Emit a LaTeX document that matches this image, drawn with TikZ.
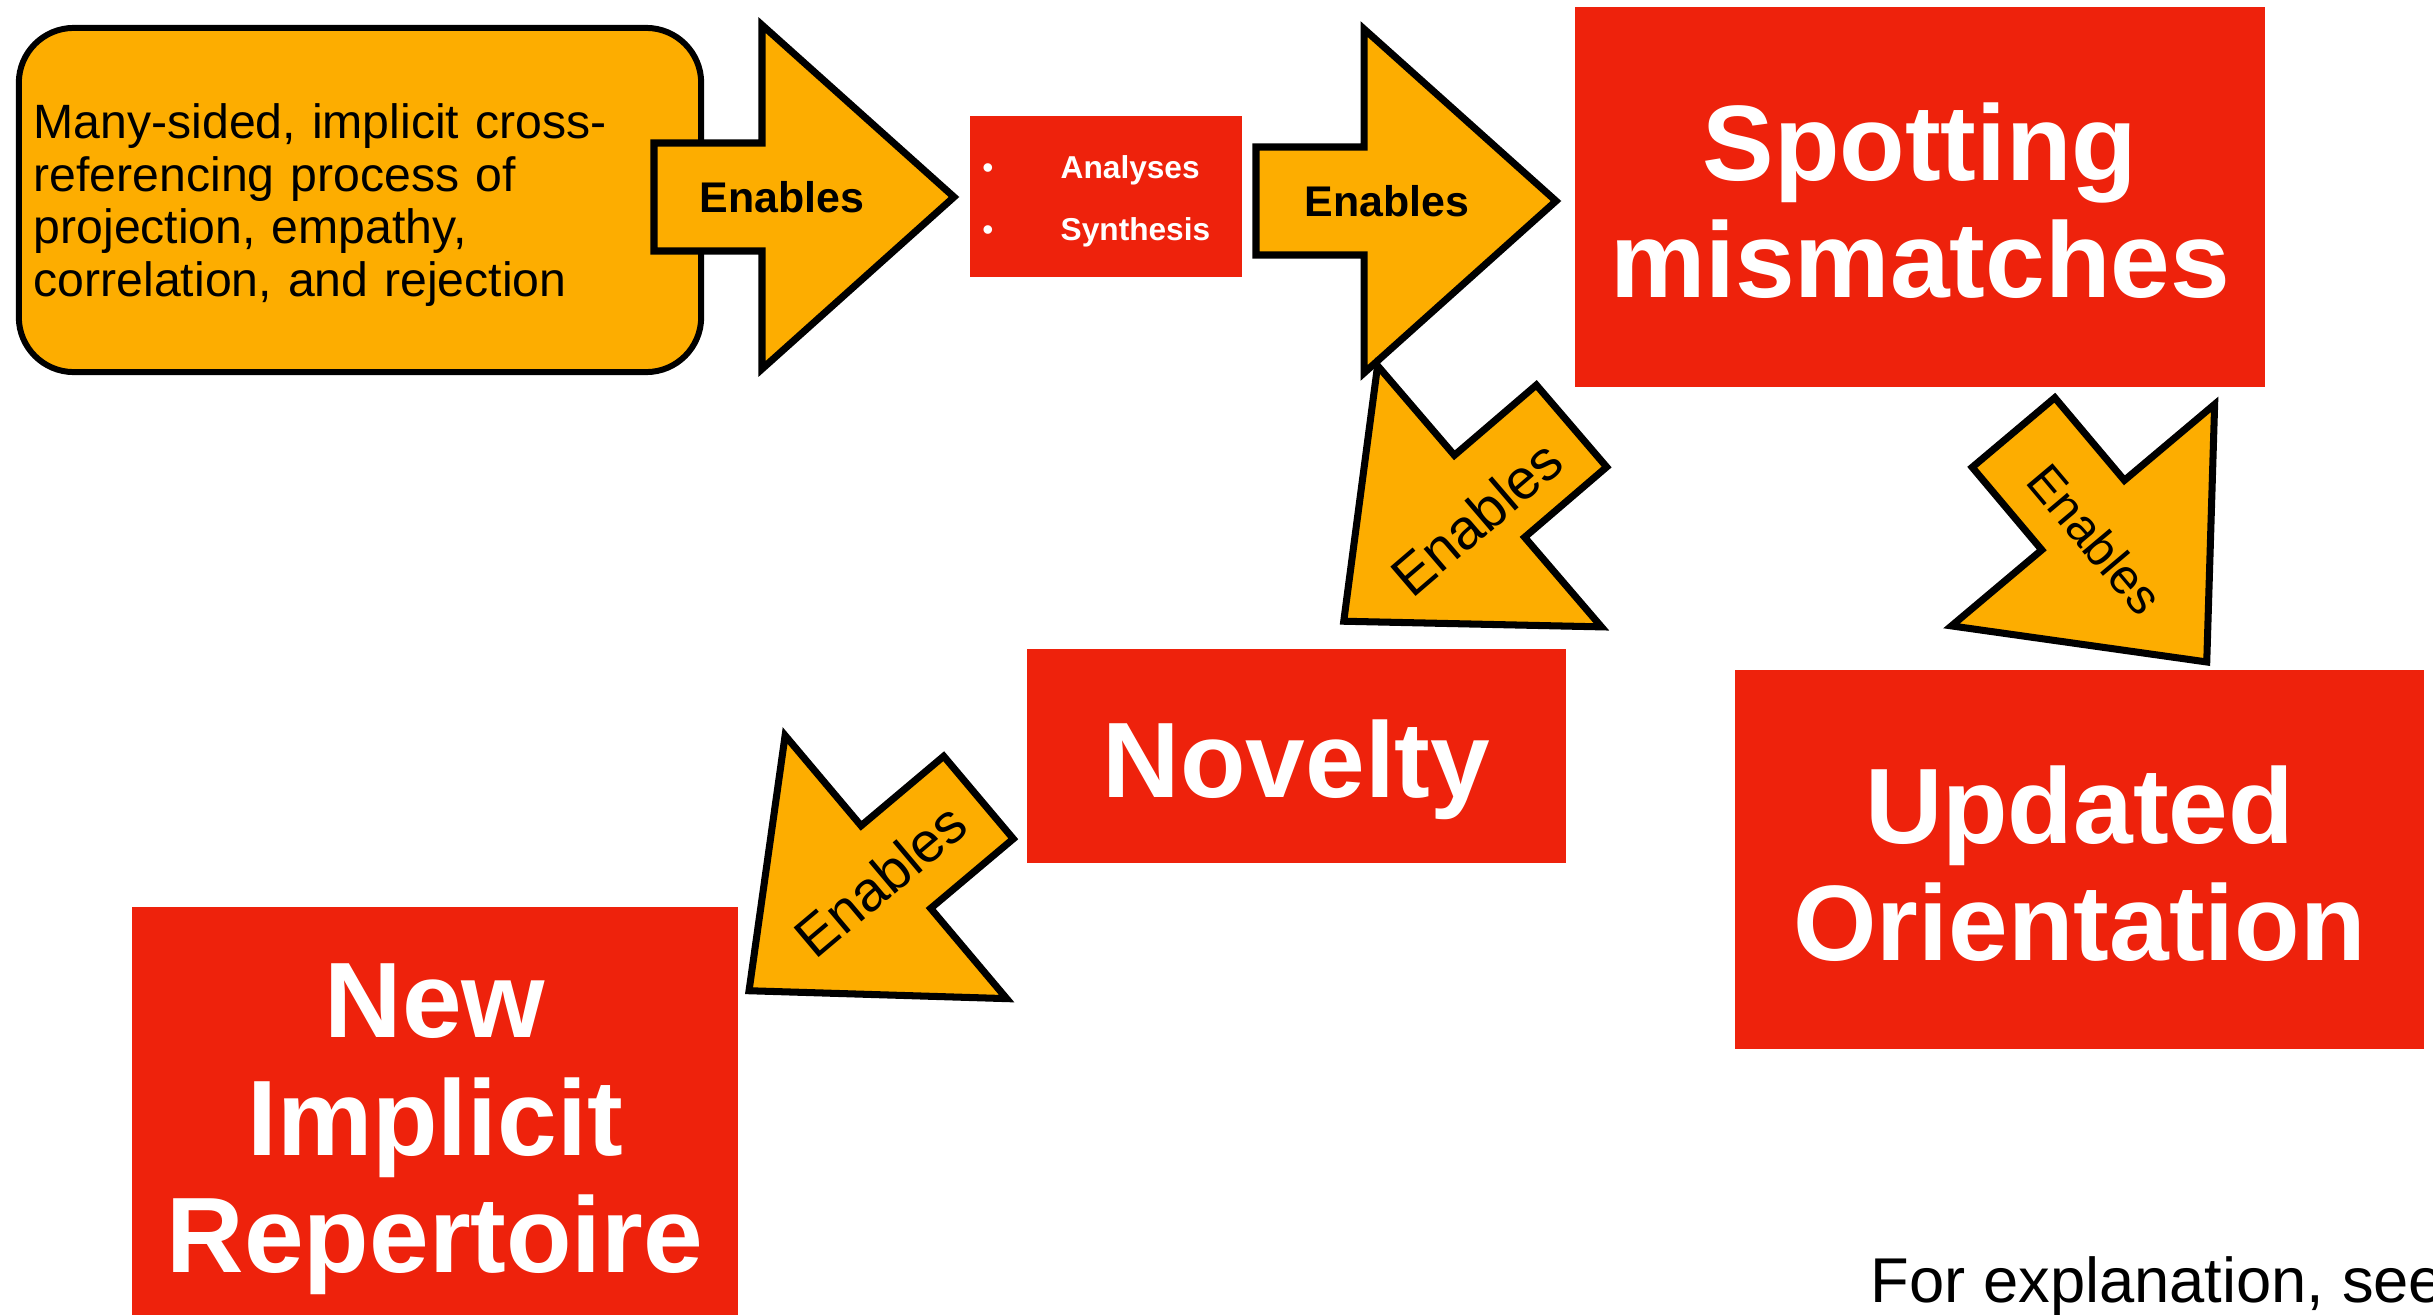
\documentclass[tikz,border=0pt]{standalone}
\usepackage{fontspec}
\setmainfont{Liberation Sans}
\definecolor{boxred}{RGB}{238,34,12}
\definecolor{amber}{RGB}{253,173,0}
% block arrow outline, tail at the origin, pointing along +x
\newcommand{\enablesoutline}{%
  \draw[arrowbody] (0,-54) -- (108,-54) -- (108,-172) -- (300,0)
    -- (108,172) -- (108,54) -- (0,54) -- cycle;}
\begin{document}
\begin{tikzpicture}[x=0.01cm,y=-0.01cm,
  arrowbody/.style={draw=black, fill=amber, line width=2pt, line join=miter},
  infobox/.style={draw=black, fill=amber, line width=1.7pt, rounded corners=0.55cm},
  infotext/.style={text=black, font=\fontsize{13.7}{15}\selectfont, inner sep=0pt,
    text width=6.54cm, align=left, anchor=west},
  redbox/.style={fill=boxred, draw=none, inner sep=0pt},
  bigtext/.style={text=white, font=\bfseries\fontsize{30.5}{36}\selectfont, inner sep=0pt, anchor=base},
  smalltext/.style={text=white, font=\bfseries\fontsize{9}{11}\selectfont, inner sep=0pt, anchor=base west},
  bulletmark/.style={text=white, font=\fontsize{9}{11}\selectfont, inner sep=0pt, anchor=base},
  flatlabel/.style={font=\bfseries\fontsize{12.2}{14}\selectfont, inner sep=0pt},
  tiltlabel/.style={font=\fontsize{16}{19}\selectfont, inner sep=0pt},
  notetext/.style={font=\fontsize{18}{21}\selectfont, inner sep=0pt, anchor=base west},
]
\useasboundingbox (0,0) rectangle (2433,1315);
\fill[white] (0,0) rectangle (2433,1315);

% starting process
\node[infobox, minimum width=6.82cm, minimum height=3.44cm] (process) at (360,200) {};
\node[infotext] (processtext) at (33,205)
  {Many-sided, implicit cross-\\referencing process of\\projection, empathy,\\correlation, and rejection};

% first arrow
\begin{scope}[shift={(654,197)}]
  \enablesoutline
  \node[flatlabel] (en1) at (128,0) {Enables};
\end{scope}

% analyses / synthesis
\node[redbox, minimum width=2.72cm, minimum height=1.61cm] (anasyn) at (1106,196.5) {};
\node[bulletmark] (b1) at (988,178) {\textbullet};
\node[bulletmark] (b2) at (988,240) {\textbullet};
\node[smalltext] (ana) at (1060,178) {Analyses};
\node[smalltext] (syn) at (1060,240) {Synthesis};

% second arrow
\begin{scope}[shift={(1256,201)}]
  \enablesoutline
  \node[flatlabel] (en2) at (131,0) {Enables};
\end{scope}

% spotting mismatches
\node[redbox, minimum width=6.90cm, minimum height=3.80cm] (spot) at (1920,197) {};
\node[bigtext] (spot1) at (1920,180) {Spotting};
\node[bigtext] (spot2) at (1920,297) {mismatches};

% arrow towards novelty
\begin{scope}[shift={(1571.5,426)}, rotate=220.6]
  \enablesoutline
  \node[tiltlabel, rotate=40.6] (en3) at (132,-8) {Enables};
\end{scope}

% arrow towards updated orientation
\begin{scope}[shift={(2013.5,432.5)}, rotate=-49.9]
  \enablesoutline
  \node[tiltlabel, font=\fontsize{14}{17}\selectfont, rotate=-49.9] (en4) at (134,6) {Enables};
\end{scope}

% novelty
\node[redbox, minimum width=5.39cm, minimum height=2.14cm] (novel) at (1296.5,756) {};
\node[bigtext] (novel1) at (1296.5,797) {Novelty};

% arrow towards new repertoire
\begin{scope}[shift={(978.5,797.5)}, rotate=220.1]
  \enablesoutline
  \node[tiltlabel, rotate=40.1] (en5) at (128,0) {Enables};
\end{scope}

% updated orientation
\node[redbox, minimum width=6.89cm, minimum height=3.79cm] (upd) at (2079.5,859.5) {};
\node[bigtext] (upd1) at (2079.5,843) {Updated};
\node[bigtext] (upd2) at (2079.5,960) {Orientation};

% new implicit repertoire
\node[redbox, minimum width=6.06cm, minimum height=4.18cm] (rep) at (435,1116) {};
\node[bigtext] (rep1) at (435,1037) {New};
\node[bigtext] (rep2) at (435,1155) {Implicit};
\node[bigtext] (rep3) at (435,1272) {Repertoire};

% footnote
\node[notetext] (note) at (1870,1302) {For explanation, see};
\end{tikzpicture}
\end{document}
